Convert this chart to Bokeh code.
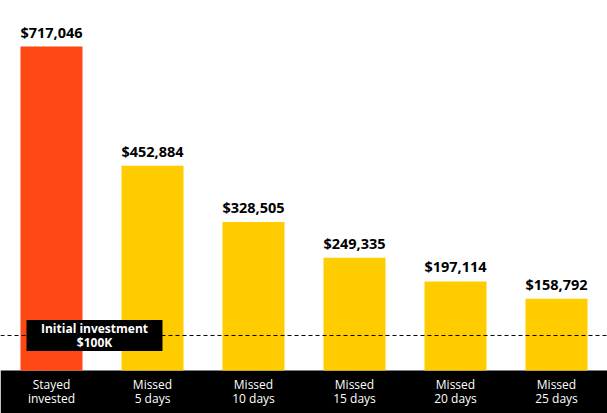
from bokeh.plotting import figure
from bokeh.models import ColumnDataSource, Span
from bokeh.core.properties import value
from bokeh.embed import file_html
from bokeh.resources import INLINE

categories = ["Stayed\ninvested", "Missed\n5 days", "Missed\n10 days", "Missed\n15 days", "Missed\n20 days", "Missed\n25 days"]
values = [717046, 452884, 328505, 249335, 197114, 158792]
labels = ["$717,046", "$452,884", "$328,505", "$249,335", "$197,114", "$158,792"]
colors = ["#FF4713", "#FFCC00", "#FFCC00", "#FFCC00", "#FFCC00", "#FFCC00"]
initial_label = ["Initial investment", "$100K"]
initial_line_level = 77500   # where the reference line is drawn on the value scale

W, H = 607, 413
band_px = 43
scale = 324 / max(values)          # pixels per dollar
y_top = (H - band_px) / scale
y_bot = -band_px / scale

xs = list(range(len(values)))
p = figure(width=W, height=H, x_range=(-0.505, len(values) - 0.495), y_range=(y_bot, y_top),
           output_backend="svg", toolbar_location=None, min_border=0)
p.axis.visible = False
p.grid.visible = False
p.outline_line_color = None
p.background_fill_color = "white"
p.border_fill_color = "white"

# black category band
p.quad(left=-0.505, right=len(values) - 0.495, bottom=y_bot, top=0, fill_color="black", line_color=None)

src = ColumnDataSource(dict(x=xs, top=values, color=colors, lab=labels))
p.vbar(x="x", top="top", bottom=0, width=0.614, fill_color="color", line_color=None, source=src)

p.text(x="x", y="top", text="lab", source=src, text_align="center", text_baseline="bottom",
       y_offset=-5, text_font=value("Open Sans"), text_font_style="bold", text_font_size="14.5px",
       text_color="black")

first = [c.split("\n")[0] for c in categories]
second = [c.split("\n")[1] for c in categories]
cat_src = ColumnDataSource(dict(x=xs, a=first, b=second, y=[0] * len(xs)))
p.text(x="x", y="y", text="a", source=cat_src, text_align="center", text_baseline="middle",
       y_offset=13.5, text_font=value("Open Sans"), text_font_size="12px", text_color="white")
p.text(x="x", y="y", text="b", source=cat_src, text_align="center", text_baseline="middle",
       y_offset=28, text_font=value("Open Sans"), text_font_size="12px", text_color="white")

p.add_layout(Span(location=initial_line_level, dimension="width", line_color="black", line_width=1,
                  line_dash="4 3"))

box_x = 94 / 101 - 0.505
p.rect(x=[box_x], y=[initial_line_level], width=136 / 101, height=31 / scale,
       fill_color="black", line_color=None)
p.text(x=[box_x, box_x], y=[initial_line_level, initial_line_level], text=initial_label,
       y_offset=[-7, 7.5], text_align="center", text_baseline="middle",
       text_font=value("Open Sans"), text_font_style="bold", text_font_size="12px", text_color="white")

open("out.html", "w").write(file_html(p, INLINE))
